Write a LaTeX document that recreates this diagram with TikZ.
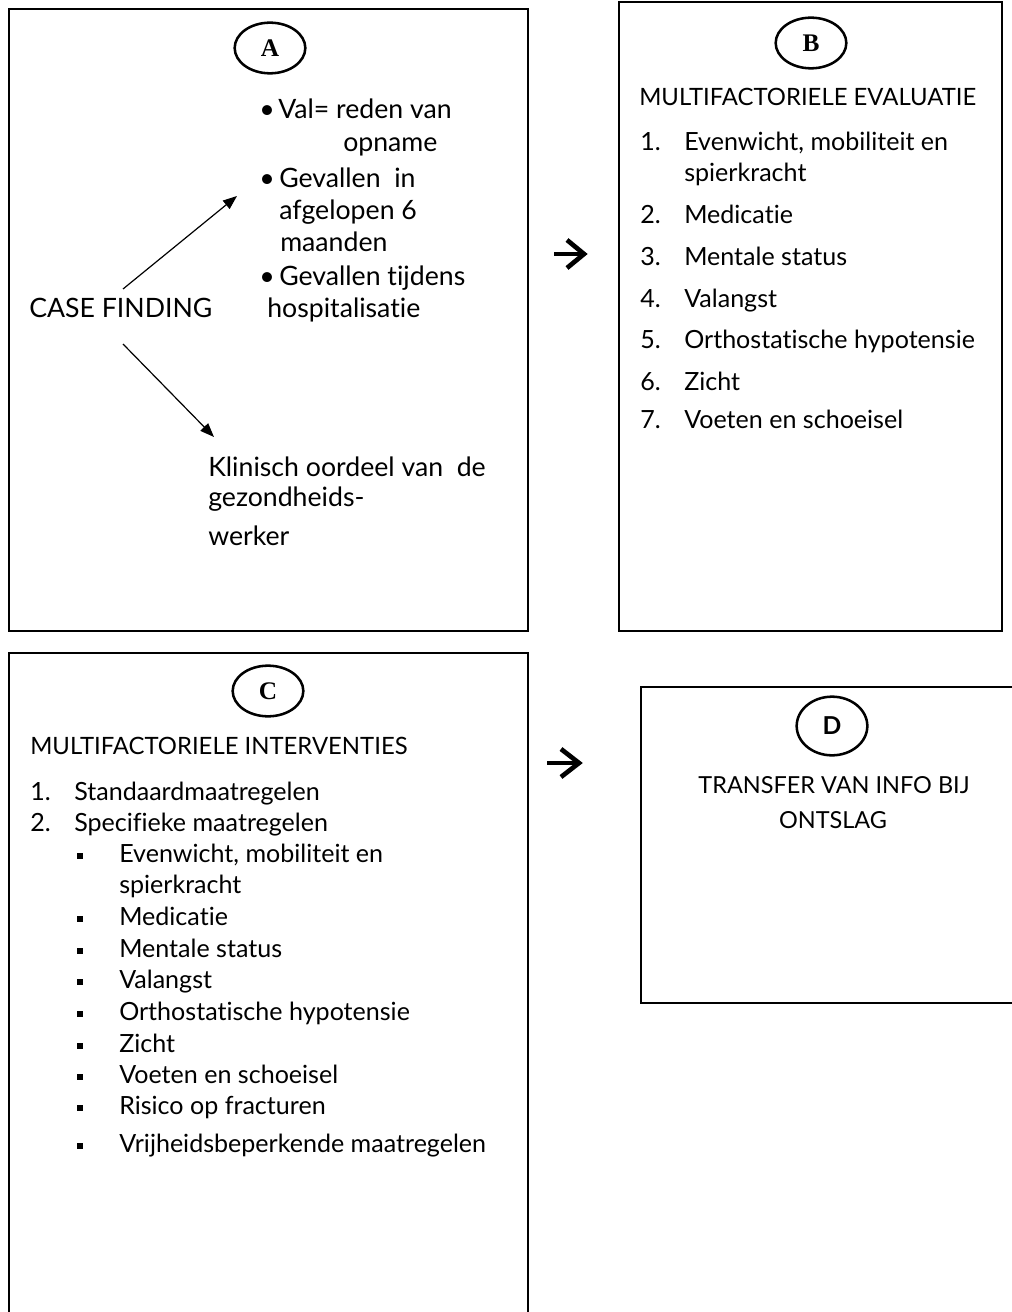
\documentclass[tikz,border=0pt]{standalone}
\usepackage{fontspec}
\setmainfont{Lato}[Ligatures={NoCommon,NoContextual}]
\newfontfamily\letterfont{Liberation Serif}
\usetikzlibrary{arrows.meta,shapes.geometric}
\begin{document}
\begin{tikzpicture}[x=0.75pt,y=-0.75pt,
  frame/.style={line width=1.5pt},
  lbl/.style={draw, ellipse, line width=1.9pt, inner sep=0pt,
    minimum width=53pt, minimum height=38pt,
    font=\letterfont\bfseries\fontsize{19pt}{20pt}\selectfont},
  lbld/.style={lbl, minimum height=44pt, font=\bfseries\fontsize{18.5pt}{20pt}\selectfont},
  txta/.style={anchor=base west, inner sep=0pt, font=\fontsize{20pt}{24pt}\selectfont},
  txt/.style={anchor=base west, inner sep=0pt, font=\fontsize{18.8pt}{22pt}\selectfont},
  ttl/.style={anchor=base west, inner sep=0pt, font=\fontsize{17.9pt}{22pt}\selectfont},
  ctxt/.style={anchor=base, inner sep=0pt, font=\fontsize{17.6pt}{22pt}\selectfont},
  sqb/.style={fill=black, inner sep=0pt, minimum size=4.8pt},
  thinarrow/.style={line width=0.9pt, -{Triangle[length=10.5pt,width=8pt]}},
  bigarrow/.style={line width=3.5pt, miter limit=10}
]
\useasboundingbox (0,0) rectangle (1011,1312);

% ---------- Box A ----------
\draw[frame] (9,9) rectangle (528,631);
\node[lbl] (la) at (270,48) {A};
\node[txta] (ab1) at (259,119) {•};
\node[txta] (a1) at (278,119) {Val= reden van};
\node[txta] (a1b) at (343,152) {opname};
\node[txta] (ab2) at (259,188) {•};
\node[txta] (a2) at (279,188) {Gevallen\ \ in};
\node[txta] (a2b) at (279,220) {afgelopen 6};
\node[txta] (a2c) at (280,252) {maanden};
\node[txta] (ab3) at (259,286) {•};
\node[txta] (a3) at (279,286) {Gevallen tijdens};
\node[txta] (a3b) at (267,318) {hospitalisatie};
\node[txta] (cf) at (29,318) {CASE FINDING};
\node[txta] (k1) at (208,476) {Klinisch oordeel van\ \ de};
\node[txta] (k2) at (208,506) {gezondheids-};
\node[txta] (k3) at (208,545) {werker};
\coordinate (upstart) at (123,289);
\coordinate (uptip) at (237,196);
\coordinate (dnstart) at (123,344);
\coordinate (dntip) at (214,437);
\draw[thinarrow] (upstart) -- (uptip);
\draw[thinarrow] (dnstart) -- (dntip);

% ---------- arrow A -> B ----------
\coordinate (r1a) at (554,254);
\coordinate (r1b) at (584,254);
\draw[bigarrow] (r1a) -- (r1b);
\draw[bigarrow] (567,240) -- (r1b) -- (567,268);

% ---------- Box B ----------
\draw[frame] (619,2) rectangle (1002,631);
\node[lbl] (lb) at (811,43) {B};
\node[ttl] (bt) at (639,106) {MULTIFACTORIELE EVALUATIE};
\node[txt] (bn1) at (640,151) {1.};
\node[txt] (b1) at (684,151) {Evenwicht, mobiliteit en};
\node[txt] (b1b) at (684,182) {spierkracht};
\node[txt] (bn2) at (640,224) {2.};
\node[txt] (b2) at (684,224) {Medicatie};
\node[txt] (bn3) at (640,266) {3.};
\node[txt] (b3) at (684,266) {Mentale status};
\node[txt] (bn4) at (640,307) {4.};
\node[txt] (b4) at (684,307) {Valangst};
\node[txt] (bn5) at (640,349) {5.};
\node[txt] (b5) at (684,349) {Orthostatische hypotensie};
\node[txt] (bn6) at (640,390) {6.};
\node[txt] (b6) at (684,390) {Zicht};
\node[txt] (bn7) at (640,428) {7.};
\node[txt] (b7) at (684,428) {Voeten en schoeisel};

% ---------- Box C ----------
\draw[frame] (9,1316) -- (9,653) -- (528,653) -- (528,1316);
\node[lbl] (lc) at (268,691) {C};
\node[ttl] (ct) at (30,754) {MULTIFACTORIELE INTERVENTIES};
\node[txt] (cn1) at (30,800) {1.};
\node[txt] (c1) at (74,800) {Standaardmaatregelen};
\node[txt] (cn2) at (30,831) {2.};
\node[txt] (c2) at (74,831) {Specifieke maatregelen};
\node[sqb] (s1) at (80,856) {};
\node[txt] (c21) at (119,862) {Evenwicht, mobiliteit en};
\node[txt] (c21b) at (119,893) {spierkracht};
\node[sqb] (s2) at (80,919) {};
\node[txt] (c22) at (119,925) {Medicatie};
\node[sqb] (s3) at (80,951) {};
\node[txt] (c23) at (119,957) {Mentale status};
\node[sqb] (s4) at (80,982) {};
\node[txt] (c24) at (119,988) {Valangst};
\node[sqb] (s5) at (80,1014) {};
\node[txt] (c25) at (119,1020) {Orthostatische hypotensie};
\node[sqb] (s6) at (80,1046) {};
\node[txt] (c26) at (119,1052) {Zicht};
\node[sqb] (s7) at (80,1077) {};
\node[txt] (c27) at (119,1083) {Voeten en schoeisel};
\node[sqb] (s8) at (80,1108) {};
\node[txt] (c28) at (119,1114) {Risico op fracturen};
\node[sqb] (s9) at (80,1146) {};
\node[txt] (c29) at (119,1152) {Vrijheidsbeperkende maatregelen};

% ---------- arrow C -> D ----------
\coordinate (r2a) at (547,763);
\coordinate (r2b) at (579,763);
\draw[bigarrow] (r2a) -- (r2b);
\draw[bigarrow] (561,749) -- (r2b) -- (561,777);

% ---------- Box D ----------
\draw[frame] (1015,687) -- (641,687) -- (641,1003) -- (1015,1003);
\node[lbld] (ld) at (832,726) {D};
\node[ctxt] (d1) at (834,793) {TRANSFER VAN INFO BIJ};
\node[ctxt] (d2) at (833,828) {ONTSLAG};
\end{tikzpicture}
\end{document}
